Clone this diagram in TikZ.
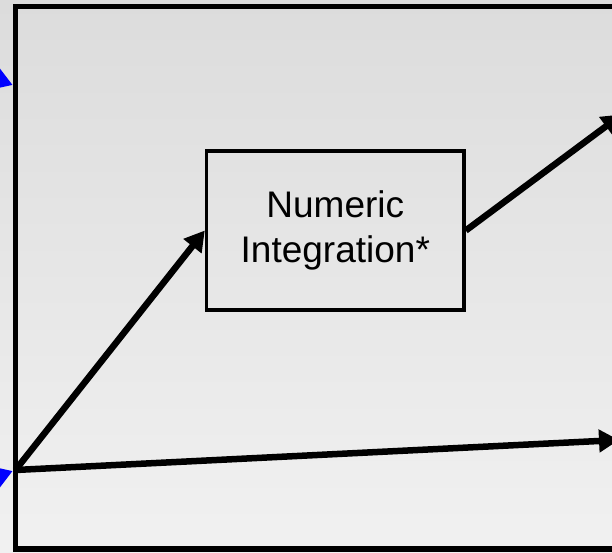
\documentclass[tikz,border=0pt]{standalone}
\usepackage{fontspec}
\setmainfont{Liberation Sans}
\usetikzlibrary{positioning,arrows.meta}
\definecolor{bgtop}{RGB}{220,220,220}
\definecolor{bgbot}{RGB}{241,241,241}
\definecolor{sig}{RGB}{0,0,255}

\begin{document}
\begin{tikzpicture}[x=1pt,y=1pt,>={Triangle[length=20pt,width=22pt]},
  frm/.style={draw=black,line width=5.5pt},
  blk/.style={draw=black,line width=3.5pt,minimum width=257.5pt,minimum height=159pt,inner sep=0pt,
    align=center,font=\fontsize{37}{45}\selectfont},
  wire/.style={->,line width=6.5pt,black},
  feed/.style={-{Triangle[length=22pt,width=26pt]},line width=6.5pt,sig}]
  \useasboundingbox (0,0) rectangle (612,553);
  \fill[top color=bgtop,bottom color=bgbot] (0,0) rectangle (612,553);
  % subsystem frame
  \draw[frm] (15.5,4) rectangle (650,546.5);
  \coordinate (inA) at (12.7,468);
  \coordinate (inB) at (12.7,82);
  \coordinate (src) at (15.5,83);
  \coordinate (outA) at (622,438.6);
  \coordinate (outB) at (619,113);
  \coordinate (feedA) at (-60,494.6);
  \coordinate (feedB) at (-60,55.4);
  \node[blk] (integ) at (335.3,322.5) {Numeric\\Integration*};
  \draw[feed] (feedA)--(inA); \draw[feed] (feedB)--(inB);
  \draw[wire] (src)--(integ.west); \draw[wire] (integ.east)--(outA);
  \draw[wire] (src)--(outB);
\end{tikzpicture}
\end{document}
